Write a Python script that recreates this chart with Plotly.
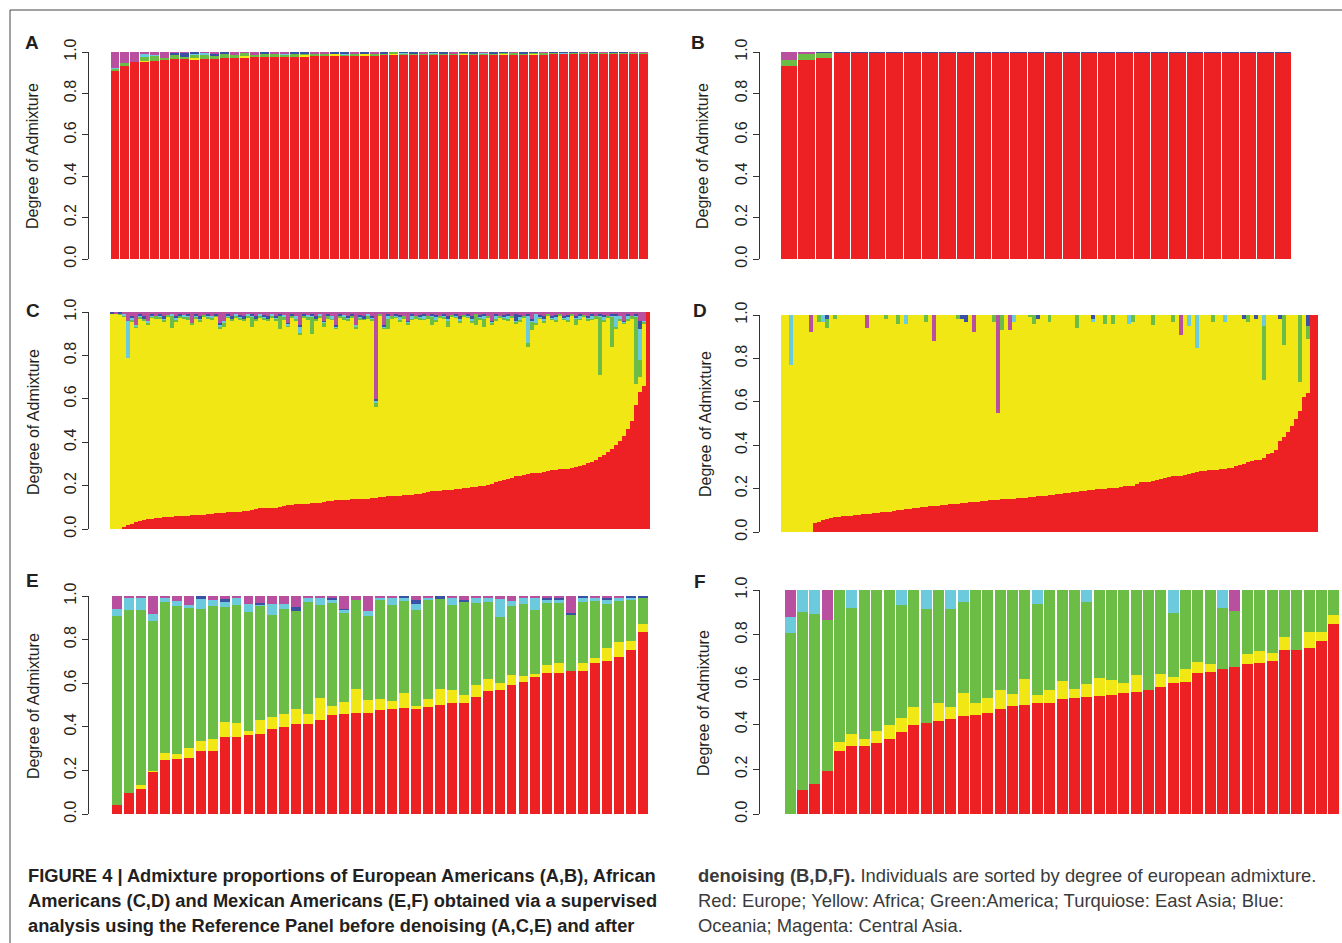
import numpy as np
import plotly.graph_objects as go

W, H = 1342, 943
COLORS = ["#ED2024", "#F0E714", "#6BBD45", "#6BCBDC", "#3A52A4", "#B84F9F"]  # red, yellow, green, turquoise, blue, magenta
TICKS = [0.0, 0.2, 0.4, 0.6, 0.8, 1.0]
TICK_TEXT = ["0.0", "0.2", "0.4", "0.6", "0.8", "1.0"]

# ---------------- Panel A (European Americans, before denoising) ----------------
a_red = [0.910, 0.930, 0.952, 0.955, 0.957, 0.962, 0.966, 0.966, 0.966, 0.966,
         0.967, 0.969, 0.971, 0.971, 0.974, 0.976, 0.976, 0.977, 0.978, 0.980,
         0.980, 0.981, 0.982, 0.982, 0.983, 0.984, 0.985, 0.985, 0.986, 0.986,
         0.986, 0.987, 0.987, 0.987, 0.988, 0.988, 0.988, 0.989, 0.989, 0.989,
         0.990, 0.990, 0.990, 0.990, 0.991, 0.991, 0.991, 0.991, 0.992, 0.992,
         0.992, 0.993, 0.993, 0.995]
a_yellow = [0, 0, 0, 0.003, 0, 0, 0, 0, 0.003, 0,
            0, 0, 0, 0.010, 0, 0, 0, 0, 0, 0.005,
            0, 0, 0.008, 0, 0, 0.004, 0, 0, 0.004, 0,
            0, 0.003, 0, 0, 0, 0.004, 0, 0, 0, 0.003,
            0, 0, 0.003, 0, 0, 0, 0.002, 0, 0, 0,
            0.002, 0, 0, 0]
a_green = [0.010, 0.015, 0, 0.020, 0.025, 0.010, 0.020, 0.010, 0.015, 0.020,
           0.015, 0.020, 0.015, 0.015, 0.010, 0.012, 0.015, 0.010, 0.010, 0.010,
           0.010, 0.008, 0, 0.006, 0.010, 0, 0.008, 0.010, 0.010, 0.008,
           0.006, 0.005, 0.008, 0.006, 0.005, 0.004, 0.007, 0.006, 0.005, 0.004,
           0.006, 0.005, 0.004, 0.006, 0.005, 0.004, 0.004, 0.006, 0.004, 0.005,
           0.003, 0.004, 0.005, 0.002]
a_turq = [0.005, 0, 0, 0.010, 0.005, 0, 0, 0, 0.010, 0.010,
          0, 0, 0, 0, 0, 0, 0, 0.003, 0, 0,
          0, 0, 0, 0.003, 0, 0, 0, 0, 0, 0.002,
          0, 0, 0.002, 0, 0, 0, 0, 0.002, 0, 0,
          0.002, 0, 0, 0, 0, 0.002, 0, 0, 0, 0,
          0, 0.001, 0, 0]
a_blue = [0, 0, 0, 0, 0, 0, 0.010, 0.020, 0.006, 0,
          0.010, 0.011, 0, 0, 0, 0.012, 0, 0, 0.012, 0.005,
          0, 0, 0.010, 0.009, 0, 0.012, 0, 0.005, 0, 0.004,
          0.008, 0, 0.003, 0.007, 0, 0.004, 0.005, 0, 0.006, 0.004,
          0, 0.005, 0.003, 0, 0.004, 0.003, 0.003, 0, 0.004, 0,
          0.003, 0.002, 0, 0.002]
a_magenta = [0.075, 0.055, 0.048, 0.012, 0.013, 0.028, 0.004, 0.004, 0, 0.004,
             0.008, 0, 0.014, 0.004, 0.016, 0, 0.009, 0.010, 0, 0,
             0.010, 0.011, 0, 0, 0.007, 0, 0.007, 0, 0, 0,
             0, 0.005, 0, 0, 0.007, 0, 0, 0.003, 0, 0,
             0.002, 0, 0, 0.004, 0, 0, 0, 0.003, 0, 0.003,
             0, 0, 0.002, 0.001]

# ---------------- Panel B (European Americans, after denoising) ----------------
b_red = [0.930, 0.962, 0.972, 0.996, 0.996, 0.996, 0.996, 0.996, 0.996, 0.996,
         0.996, 0.996, 0.996, 0.996, 0.996, 0.996, 0.996, 0.996, 0.996, 0.996,
         0.996, 0.996, 0.996, 0.996, 0.996, 0.996, 0.996, 0.996, 0.996]
b_yellow = [0, 0, 0, 0, 0, 0, 0, 0, 0, 0,
            0, 0, 0, 0, 0, 0, 0, 0, 0, 0,
            0, 0, 0, 0, 0, 0, 0, 0, 0]
b_green = [0.030, 0.030, 0.025, 0, 0, 0, 0, 0, 0, 0,
           0, 0, 0, 0, 0, 0, 0, 0, 0, 0,
           0, 0, 0, 0, 0, 0, 0, 0, 0]
b_turq = [0, 0.003, 0, 0, 0, 0, 0, 0, 0, 0,
          0, 0, 0, 0, 0, 0, 0, 0, 0, 0,
          0, 0, 0, 0, 0, 0, 0, 0, 0]
b_blue = [0, 0, 0.003, 0.004, 0.004, 0.004, 0.004, 0.004, 0.004, 0.004,
          0.004, 0.004, 0.004, 0.004, 0.004, 0.004, 0.004, 0.004, 0.004, 0.004,
          0.004, 0.004, 0.004, 0.004, 0.004, 0.004, 0.004, 0.004, 0.004]
b_magenta = [0.040, 0.005, 0, 0, 0, 0, 0, 0, 0, 0,
             0, 0, 0, 0, 0, 0, 0, 0, 0, 0,
             0, 0, 0, 0, 0, 0, 0, 0, 0]

# ---------------- Panel C (African Americans, before denoising) ----------------
c_red = [0, 0, 0, 0.01, 0.02, 0.025, 0.03, 0.035, 0.04, 0.045, 0.048, 0.05, 0.053, 0.054, 0.055,
         0.056, 0.058, 0.06, 0.061, 0.062, 0.063, 0.064, 0.065, 0.066, 0.067, 0.069, 0.072, 0.075, 0.076, 0.077,
         0.078, 0.079, 0.08, 0.082, 0.084, 0.087, 0.092, 0.095, 0.096, 0.097, 0.098, 0.099, 0.1, 0.104, 0.11,
         0.112, 0.114, 0.115, 0.116, 0.117, 0.118, 0.12, 0.121, 0.124, 0.128, 0.13, 0.132, 0.133, 0.134, 0.135,
         0.136, 0.137, 0.138, 0.139, 0.14, 0.142, 0.145, 0.147, 0.148, 0.15, 0.151, 0.152, 0.153, 0.155, 0.157,
         0.159, 0.161, 0.162, 0.166, 0.17, 0.173, 0.175, 0.177, 0.178, 0.18, 0.182, 0.184, 0.186, 0.188, 0.19,
         0.192, 0.194, 0.196, 0.199, 0.203, 0.208, 0.215, 0.222, 0.226, 0.23, 0.236, 0.242, 0.245, 0.25, 0.254,
         0.256, 0.258, 0.26, 0.264, 0.268, 0.271, 0.273, 0.275, 0.276, 0.277, 0.279, 0.285, 0.29, 0.296, 0.302,
         0.31, 0.32, 0.33, 0.34, 0.355, 0.37, 0.385, 0.405, 0.43, 0.46, 0.5, 0.57, 0.63, 0.66, 1.0]
c_green = [0, 0, 0.005, 0.01, 0, 0.01, 0.01, 0.005, 0.01, 0.01, 0.005, 0.01, 0.005, 0.01, 0.01,
           0.06, 0.01, 0.005, 0.01, 0.01, 0.01, 0.005, 0.01, 0.01, 0.005, 0.01, 0.01, 0.01, 0.02, 0.005,
           0.01, 0.005, 0.01, 0.01, 0.005, 0.05, 0.01, 0.005, 0.01, 0.01, 0.005, 0.01, 0.06, 0.01, 0.01,
           0.005, 0.01, 0.01, 0.005, 0.01, 0.08, 0.01, 0.005, 0.02, 0.01, 0.005, 0.01, 0.005, 0.01, 0.01,
           0.005, 0.01, 0.01, 0.005, 0.01, 0.01, 0.02, 0.005, 0.01, 0.05, 0.01, 0.005, 0.01, 0.01, 0.01,
           0.005, 0.01, 0.01, 0.005, 0.01, 0.04, 0.01, 0.005, 0.01, 0.03, 0.01, 0.005, 0.01, 0.01, 0.005,
           0.01, 0.05, 0.01, 0.04, 0.005, 0.01, 0.01, 0.005, 0.01, 0.01, 0.005, 0.01, 0.01, 0.005, 0.015,
           0.04, 0.01, 0.005, 0.01, 0.01, 0.005, 0.01, 0.01, 0.005, 0.01, 0.01, 0.03, 0.005, 0.01, 0.01,
           0.005, 0.01, 0.27, 0.01, 0.005, 0.14, 0.01, 0.01, 0.005, 0.01, 0.01, 0.31, 0.08, 0.01, 0]
c_turq = [0, 0, 0, 0.005, 0.17, 0.01, 0.005, 0.01, 0, 0.01, 0.005, 0, 0.01, 0.005, 0,
          0.005, 0.01, 0, 0.005, 0.01, 0, 0.01, 0.005, 0, 0.01, 0.005, 0, 0.01, 0.01, 0.005,
          0, 0.01, 0.005, 0, 0.01, 0.005, 0, 0.01, 0.005, 0, 0.01, 0.005, 0, 0.01, 0.005,
          0, 0.01, 0.03, 0, 0.01, 0.005, 0, 0.01, 0.005, 0, 0.01, 0.005, 0, 0.01, 0.005,
          0, 0.01, 0.005, 0, 0.01, 0.005, 0.01, 0, 0.005, 0.01, 0, 0.005, 0.01, 0, 0.005,
          0.01, 0, 0.005, 0.01, 0, 0.005, 0.01, 0, 0.005, 0.01, 0, 0.005, 0.01, 0, 0.005,
          0.01, 0, 0.005, 0.01, 0, 0.005, 0.01, 0, 0.005, 0.01, 0, 0.005, 0.01, 0, 0.13,
          0.005, 0.04, 0.005, 0.01, 0, 0.005, 0.01, 0, 0.005, 0.01, 0, 0.005, 0.01, 0, 0.005,
          0.01, 0, 0.005, 0.01, 0, 0.005, 0.05, 0.01, 0.005, 0.01, 0, 0.005, 0.14, 0.005, 0]
c_blue = [0.005, 0, 0.005, 0, 0, 0.005, 0, 0.005, 0.01, 0, 0.005, 0, 0.005, 0.01, 0,
          0, 0.005, 0.01, 0, 0.005, 0, 0.005, 0.01, 0, 0.005, 0, 0.005, 0.01, 0, 0.005,
          0.01, 0, 0.005, 0.01, 0, 0.005, 0.01, 0, 0.005, 0.01, 0, 0.005, 0.01, 0, 0.005,
          0.01, 0, 0.005, 0.01, 0, 0.005, 0.01, 0, 0.005, 0.01, 0, 0.005, 0.01, 0, 0.005,
          0.01, 0, 0.005, 0.01, 0, 0.005, 0.01, 0, 0.005, 0.01, 0, 0.005, 0.01, 0, 0.005,
          0.01, 0, 0.005, 0.01, 0, 0.005, 0.01, 0, 0.005, 0.01, 0, 0.005, 0.01, 0, 0.005,
          0.01, 0, 0.005, 0.01, 0, 0.005, 0.01, 0, 0.005, 0.01, 0, 0.03, 0.01, 0, 0.005,
          0.01, 0, 0.005, 0.01, 0, 0.005, 0.01, 0, 0.005, 0.01, 0, 0.005, 0.01, 0, 0.005,
          0.01, 0, 0.005, 0.01, 0, 0.005, 0.01, 0, 0.005, 0.01, 0, 0.005, 0.04, 0, 0]
c_magenta = [0, 0.005, 0, 0.01, 0.04, 0.02, 0.06, 0.01, 0.02, 0.04, 0.01, 0.02, 0.01, 0.02, 0.015,
             0.01, 0.02, 0.01, 0.015, 0.01, 0.05, 0.01, 0.02, 0.015, 0.01, 0.02, 0.01, 0.05, 0.04, 0.01,
             0.02, 0.01, 0.015, 0.02, 0.01, 0.01, 0.02, 0.01, 0.015, 0.02, 0.01, 0.02, 0.01, 0.015, 0.05,
             0.01, 0.02, 0.06, 0.01, 0.015, 0.01, 0.02, 0.01, 0.04, 0.01, 0.02, 0.06, 0.01, 0.015, 0.02,
             0.01, 0.06, 0.015, 0.02, 0.01, 0.02, 0.40, 0.01, 0.06, 0.01, 0.02, 0.01, 0.015, 0.02, 0.04,
             0.01, 0.02, 0.015, 0.01, 0.02, 0.01, 0.015, 0.02, 0.01, 0.02, 0.015, 0.01, 0.02, 0.015, 0.01,
             0.02, 0.01, 0.015, 0.01, 0.02, 0.04, 0.01, 0.02, 0.015, 0.01, 0.02, 0.01, 0.015, 0.02, 0.01,
             0.03, 0.01, 0.015, 0.02, 0.01, 0.02, 0.015, 0.01, 0.02, 0.015, 0.01, 0.02, 0.01, 0.015, 0.02,
             0.01, 0.02, 0.01, 0.015, 0.02, 0.01, 0.01, 0.02, 0.04, 0.01, 0.02, 0.01, 0.04, 0.04, 0]

# ---------------- Panel D (African Americans, after denoising) ----------------
d_red = [0, 0, 0, 0, 0, 0, 0, 0, 0.043, 0.048, 0.054, 0.058, 0.066, 0.068, 0.07,
         0.074, 0.075, 0.076, 0.078, 0.08, 0.082, 0.083, 0.084, 0.086, 0.088, 0.09, 0.092, 0.094, 0.096, 0.1,
         0.102, 0.104, 0.106, 0.109, 0.111, 0.114, 0.116, 0.118, 0.12, 0.122, 0.124, 0.125, 0.127, 0.129, 0.131,
         0.134, 0.135, 0.137, 0.139, 0.14, 0.142, 0.144, 0.146, 0.148, 0.149, 0.15, 0.151, 0.151, 0.153, 0.155,
         0.156, 0.158, 0.16, 0.162, 0.164, 0.165, 0.167, 0.17, 0.172, 0.174, 0.176, 0.179, 0.181, 0.183, 0.185,
         0.188, 0.19, 0.192, 0.195, 0.197, 0.199, 0.2, 0.201, 0.203, 0.205, 0.207, 0.21, 0.212, 0.214, 0.22,
         0.229, 0.23, 0.232, 0.234, 0.238, 0.242, 0.25, 0.253, 0.256, 0.258, 0.26, 0.264, 0.267, 0.27, 0.275,
         0.28, 0.283, 0.285, 0.286, 0.287, 0.289, 0.291, 0.294, 0.297, 0.303, 0.31, 0.315, 0.322, 0.328, 0.332,
         0.333, 0.34, 0.358, 0.365, 0.38, 0.42, 0.44, 0.46, 0.49, 0.52, 0.557, 0.62, 0.64, 1.0, 1.0]
d_green = [0, 0, 0, 0, 0, 0, 0, 0, 0, 0.03, 0, 0.04, 0, 0.02, 0,
           0, 0, 0, 0, 0, 0, 0, 0, 0, 0, 0, 0.02, 0, 0, 0.04,
           0, 0, 0, 0, 0, 0, 0.03, 0, 0, 0, 0, 0, 0, 0, 0.02,
           0, 0, 0, 0, 0, 0, 0, 0, 0.03, 0, 0.07, 0, 0, 0, 0,
           0, 0, 0.01, 0.04, 0, 0, 0, 0.03, 0, 0, 0, 0, 0, 0, 0.06,
           0, 0, 0, 0, 0, 0, 0.04, 0, 0.04, 0, 0, 0, 0, 0.03, 0,
           0, 0, 0, 0.045, 0, 0, 0, 0, 0.03, 0, 0, 0, 0, 0, 0,
           0, 0, 0, 0.03, 0, 0, 0, 0, 0, 0, 0, 0, 0.03, 0, 0,
           0, 0.25, 0, 0, 0, 0, 0.14, 0, 0, 0, 0.31, 0, 0.06, 0, 0]
d_turq = [0, 0, 0.23, 0, 0, 0, 0, 0, 0, 0, 0.03, 0, 0, 0, 0,
          0, 0, 0, 0, 0, 0, 0, 0, 0, 0, 0, 0, 0, 0, 0,
          0, 0.04, 0, 0, 0, 0, 0, 0, 0, 0, 0, 0, 0, 0, 0,
          0, 0, 0, 0, 0, 0, 0, 0, 0, 0, 0, 0, 0, 0.03, 0,
          0, 0, 0, 0, 0, 0, 0, 0, 0, 0, 0, 0, 0, 0, 0,
          0, 0, 0, 0.01, 0, 0, 0, 0, 0, 0, 0, 0, 0.04, 0, 0,
          0, 0, 0, 0, 0, 0, 0, 0, 0, 0, 0, 0, 0.05, 0, 0.15,
          0, 0, 0, 0, 0, 0, 0.03, 0, 0, 0, 0, 0, 0, 0, 0,
          0, 0.05, 0, 0, 0, 0, 0, 0, 0, 0, 0, 0, 0, 0, 0]
d_blue = [0, 0, 0, 0, 0, 0, 0, 0, 0, 0, 0, 0.02, 0, 0, 0,
          0, 0, 0, 0, 0, 0, 0, 0, 0, 0, 0, 0, 0, 0, 0,
          0, 0, 0, 0, 0, 0, 0, 0, 0, 0, 0, 0, 0, 0, 0,
          0.02, 0.03, 0, 0, 0, 0, 0, 0, 0, 0, 0, 0, 0, 0, 0,
          0, 0, 0, 0, 0.02, 0, 0, 0, 0, 0, 0, 0, 0, 0, 0,
          0, 0, 0, 0.02, 0, 0, 0, 0, 0, 0, 0, 0, 0, 0, 0,
          0, 0, 0, 0, 0, 0, 0, 0, 0, 0, 0, 0, 0, 0, 0,
          0, 0, 0, 0, 0, 0, 0, 0, 0, 0, 0, 0.02, 0, 0, 0.02,
          0, 0, 0, 0, 0, 0.02, 0, 0, 0, 0, 0, 0, 0.05, 0, 0]
d_magenta = [0, 0, 0, 0, 0, 0, 0, 0.08, 0, 0, 0, 0, 0, 0, 0,
             0, 0, 0, 0, 0, 0, 0.06, 0, 0, 0, 0, 0, 0, 0, 0,
             0, 0, 0, 0, 0, 0, 0, 0, 0.12, 0, 0, 0, 0, 0, 0,
             0, 0, 0, 0.08, 0, 0, 0, 0, 0, 0.45, 0, 0, 0.07, 0, 0,
             0, 0, 0, 0, 0, 0, 0, 0, 0, 0, 0, 0, 0, 0, 0,
             0, 0, 0, 0, 0, 0, 0, 0, 0, 0, 0, 0, 0, 0, 0,
             0, 0, 0, 0, 0, 0, 0, 0, 0, 0, 0.09, 0, 0, 0, 0,
             0, 0, 0, 0, 0, 0, 0, 0, 0, 0, 0, 0, 0, 0, 0,
             0, 0, 0, 0, 0, 0, 0, 0, 0, 0, 0, 0, 0, 0, 0]

# ---------------- Panel E (Mexican Americans, before denoising): cumulative tops ----------------
e_red_top = [0.041, 0.096, 0.115, 0.193, 0.248, 0.252, 0.257, 0.289, 0.289, 0.353,
             0.353, 0.362, 0.367, 0.390, 0.399, 0.413, 0.413, 0.431, 0.454, 0.459,
             0.463, 0.463, 0.477, 0.482, 0.486, 0.486, 0.491, 0.500, 0.509, 0.509,
             0.537, 0.564, 0.569, 0.592, 0.606, 0.628, 0.647, 0.647, 0.656, 0.656,
             0.693, 0.702, 0.720, 0.752, 0.835]
e_yellow_top = [0.041, 0.096, 0.133, 0.197, 0.280, 0.275, 0.303, 0.335, 0.344, 0.422,
                0.417, 0.381, 0.431, 0.445, 0.459, 0.482, 0.459, 0.532, 0.495, 0.514,
                0.573, 0.523, 0.528, 0.518, 0.555, 0.495, 0.528, 0.573, 0.569, 0.546,
                0.592, 0.619, 0.601, 0.638, 0.633, 0.642, 0.683, 0.693, 0.656, 0.693,
                0.716, 0.761, 0.789, 0.794, 0.872]
e_green_top = [0.908, 0.936, 0.936, 0.885, 0.972, 0.954, 0.945, 0.940, 0.954, 0.950,
               0.959, 0.927, 0.956, 0.913, 0.940, 0.931, 0.972, 0.959, 0.968, 0.922,
               0.982, 0.908, 0.986, 0.959, 0.977, 0.936, 0.982, 0.986, 0.959, 0.972,
               0.968, 0.972, 0.904, 0.954, 0.963, 0.936, 0.968, 0.968, 0.913, 0.972,
               0.977, 0.963, 0.977, 0.982, 0.991]
e_turq_top = [0.940, 0.995, 0.995, 0.917, 0.991, 0.977, 0.959, 0.986, 0.982, 0.977,
              0.995, 0.963, 0.959, 0.963, 0.963, 0.931, 0.995, 0.995, 0.982, 0.936,
              0.982, 0.931, 0.995, 0.991, 0.995, 0.963, 0.995, 0.986, 0.991, 0.972,
              0.991, 0.995, 0.986, 0.977, 0.995, 0.995, 0.982, 0.982, 0.913, 0.991,
              0.995, 0.986, 0.995, 0.991, 0.991]
e_blue_top = [0.940, 0.995, 0.995, 0.917, 0.991, 0.977, 0.959, 1.000, 0.982, 0.986,
              0.995, 0.963, 0.968, 0.963, 0.963, 0.950, 0.995, 0.995, 0.995, 0.940,
              0.982, 0.931, 0.995, 0.991, 1.000, 0.982, 0.995, 1.000, 0.991, 0.982,
              0.991, 0.995, 0.986, 0.977, 0.995, 0.995, 0.995, 0.995, 0.922, 1.000,
              0.995, 0.995, 0.995, 1.000, 1.000]

# ---------------- Panel F (Mexican Americans, after denoising): cumulative tops ----------------
f_red_top = [0.000, 0.107, 0.134, 0.192, 0.281, 0.304, 0.304, 0.317, 0.335, 0.366,
             0.397, 0.406, 0.415, 0.424, 0.438, 0.442, 0.451, 0.469, 0.482, 0.487,
             0.496, 0.496, 0.513, 0.518, 0.522, 0.527, 0.531, 0.540, 0.545, 0.554,
             0.567, 0.585, 0.589, 0.629, 0.634, 0.647, 0.656, 0.670, 0.674, 0.683,
             0.732, 0.732, 0.741, 0.772, 0.848]
f_yellow_top = [0.000, 0.107, 0.134, 0.192, 0.321, 0.357, 0.335, 0.371, 0.397, 0.429,
                0.478, 0.406, 0.496, 0.478, 0.540, 0.496, 0.518, 0.554, 0.536, 0.603,
                0.531, 0.554, 0.594, 0.558, 0.580, 0.607, 0.598, 0.585, 0.621, 0.554,
                0.625, 0.612, 0.647, 0.679, 0.670, 0.647, 0.656, 0.714, 0.728, 0.719,
                0.790, 0.732, 0.813, 0.813, 0.888]
f_green_top = [0.808, 0.902, 0.893, 0.866, 1.000, 0.920, 1.000, 1.000, 1.000, 0.933,
               1.000, 0.915, 1.000, 0.915, 0.946, 1.000, 1.000, 1.000, 1.000, 1.000,
               0.938, 1.000, 1.000, 1.000, 0.946, 1.000, 1.000, 1.000, 1.000, 1.000,
               1.000, 0.897, 1.000, 1.000, 1.000, 0.920, 0.906, 1.000, 1.000, 1.000,
               1.000, 1.000, 1.000, 1.000, 1.000]
f_turq_top = [0.879, 1.000, 1.000, 0.866, 1.000, 1.000, 1.000, 1.000, 1.000, 1.000,
              1.000, 1.000, 1.000, 1.000, 1.000, 1.000, 1.000, 1.000, 1.000, 1.000,
              1.000, 1.000, 1.000, 1.000, 1.000, 1.000, 1.000, 1.000, 1.000, 1.000,
              1.000, 1.000, 1.000, 1.000, 1.000, 1.000, 0.906, 1.000, 1.000, 1.000,
              1.000, 1.000, 1.000, 1.000, 1.000]

caption_left = [
    "FIGURE 4 | Admixture proportions of European Americans (A,B), African",
    "Americans (C,D) and Mexican Americans (E,F) obtained via a supervised",
    "analysis using the Reference Panel before denoising (A,C,E) and after",
]
caption_right = [
    "<b>denoising (B,D,F).</b> Individuals are sorted by degree of european admixture.",
    "Red: Europe; Yellow: Africa; Green:America; Turquiose: East Asia; Blue:",
    "Oceania; Magenta: Central Asia.",
]


def remainder_yellow(red, *others):
    tot = np.array(red, float) + sum(np.array(o, float) for o in others)
    return np.clip(1.0 - tot, 0, None)


def from_tops(*tops):
    t = [np.zeros(len(tops[0]))] + [np.array(x, float) for x in tops] + [np.ones(len(tops[0]))]
    return [np.clip(t[i + 1] - t[i], 0, None) for i in range(len(t) - 1)]


comp_A = [a_red, a_yellow, a_green, a_turq, a_blue, a_magenta]
comp_B = [b_red, b_yellow, b_green, b_turq, b_blue, b_magenta]
comp_C = [c_red, remainder_yellow(c_red, c_green, c_turq, c_blue, c_magenta), c_green, c_turq, c_blue, c_magenta]
comp_D = [d_red, remainder_yellow(d_red, d_green, d_turq, d_blue, d_magenta), d_green, d_turq, d_blue, d_magenta]
comp_E = from_tops(e_red_top, e_yellow_top, e_green_top, e_turq_top, e_blue_top)
fF = from_tops(f_red_top, f_yellow_top, f_green_top, f_turq_top)
comp_F = [fF[0], fF[1], fF[2], fF[3], np.zeros(len(f_red_top)), fF[4]]

# pixel layout (positions only)
panels = [
    ("A", comp_A, dict(axis=89, x0=110, x1=648, ytop=52, ybot=259, bw=0.9, letter=(32, 42), title=(33, 156))),
    ("B", comp_B, dict(axis=760, x0=780, x1=1292, ytop=52, ybot=259, bw=0.94, letter=(698, 42), title=(703, 156))),
    ("C", comp_C, dict(axis=89, x0=110, x1=650, ytop=312, ybot=529, bw=1.0, letter=(33, 310), title=(33, 422))),
    ("D", comp_D, dict(axis=760, x0=781, x1=1318, ytop=315, ybot=532, bw=1.0, letter=(700, 310), title=(705, 424))),
    ("E", comp_E, dict(axis=89, x0=111, x1=649, ytop=596, ybot=814, bw=0.83, letter=(32, 580), title=(33, 706))),
    ("F", comp_F, dict(axis=760, x0=784, x1=1340, ytop=590, ybot=814, bw=0.89, letter=(700, 581), title=(703, 703))),
]

fig = go.Figure()
layout = dict(
    width=W, height=H, margin=dict(l=0, r=0, t=0, b=0), template="none",
    paper_bgcolor="white", plot_bgcolor="white", barmode="stack", showlegend=False,
    annotations=[], shapes=[],
)
FONT = "Liberation Sans, Arial, Helvetica, sans-serif"

for k, (name, comps, P) in enumerate(panels, start=1):
    n = len(comps[0])
    ppu = (P["x1"] - P["x0"]) / n
    r0 = -0.5 - (P["x0"] - P["axis"]) / ppu
    r1 = n - 0.5
    xs = list(range(n))
    for j, comp in enumerate(comps):
        fig.add_trace(go.Bar(
            x=xs, y=list(comp), width=P["bw"], marker=dict(color=COLORS[j], line=dict(width=0)),
            xaxis=f"x{k}", yaxis=f"y{k}", hoverinfo="skip", showlegend=False,
        ))
    sfx = "" if k == 1 else str(k)
    layout[f"xaxis{sfx}"] = dict(domain=[P["axis"] / W, P["x1"] / W], range=[r0, r1],
                                 visible=False, anchor=f"y{k}", fixedrange=True)
    layout[f"yaxis{sfx}"] = dict(
        domain=[1 - P["ybot"] / H, 1 - P["ytop"] / H], range=[0, 1], anchor=f"x{k}",
        tickmode="array", tickvals=TICKS, ticktext=TICK_TEXT, ticks="outside", ticklen=6,
        tickwidth=1, tickcolor="#333", showline=True, linecolor="#333", linewidth=1,
        tickangle=-90, tickfont=dict(family=FONT, size=16, color="#231F20"),
        showgrid=False, zeroline=False, automargin=False, fixedrange=True,
    )
    lx, ly = P["letter"]
    layout["annotations"].append(dict(
        x=lx / W, y=1 - ly / H, xref="paper", yref="paper", text=f"<b>{name}</b>",
        showarrow=False, xanchor="center", yanchor="middle",
        font=dict(family=FONT, size=19, color="#231F20")))
    tx, ty = P["title"]
    layout["annotations"].append(dict(
        x=tx / W, y=1 - ty / H, xref="paper", yref="paper", text="Degree of Admixture",
        textangle=-90, showarrow=False, xanchor="center", yanchor="middle",
        font=dict(family=FONT, size=16, color="#231F20")))

for i, line in enumerate(caption_left):
    layout["annotations"].append(dict(
        x=26 / W, y=1 - (875 + 25 * i) / H, xref="paper", yref="paper", text=f"<b>{line}</b>",
        showarrow=False, xanchor="left", yanchor="middle",
        font=dict(family=FONT, size=18.3, color="#231F20")))
for i, line in enumerate(caption_right):
    layout["annotations"].append(dict(
        x=696 / W, y=1 - (875 + 25 * i) / H, xref="paper", yref="paper", text=line,
        showarrow=False, xanchor="left", yanchor="middle",
        font=dict(family=FONT, size=18.4, color="#3A3A3A")))

# frame lines (top and left)
layout["shapes"].append(dict(type="line", xref="paper", yref="paper", x0=10 / W, x1=1.0,
                             y0=1 - 10 / H, y1=1 - 10 / H, line=dict(color="#444", width=1)))
layout["shapes"].append(dict(type="line", xref="paper", yref="paper", x0=10 / W, x1=10 / W,
                             y0=0, y1=1 - 10 / H, line=dict(color="#444", width=1)))

fig.update_layout(**layout)
fig.write_html("out.html", config={"displayModeBar": False},
               post_script="document.body.style.margin='0';document.body.style.overflow='hidden';")
